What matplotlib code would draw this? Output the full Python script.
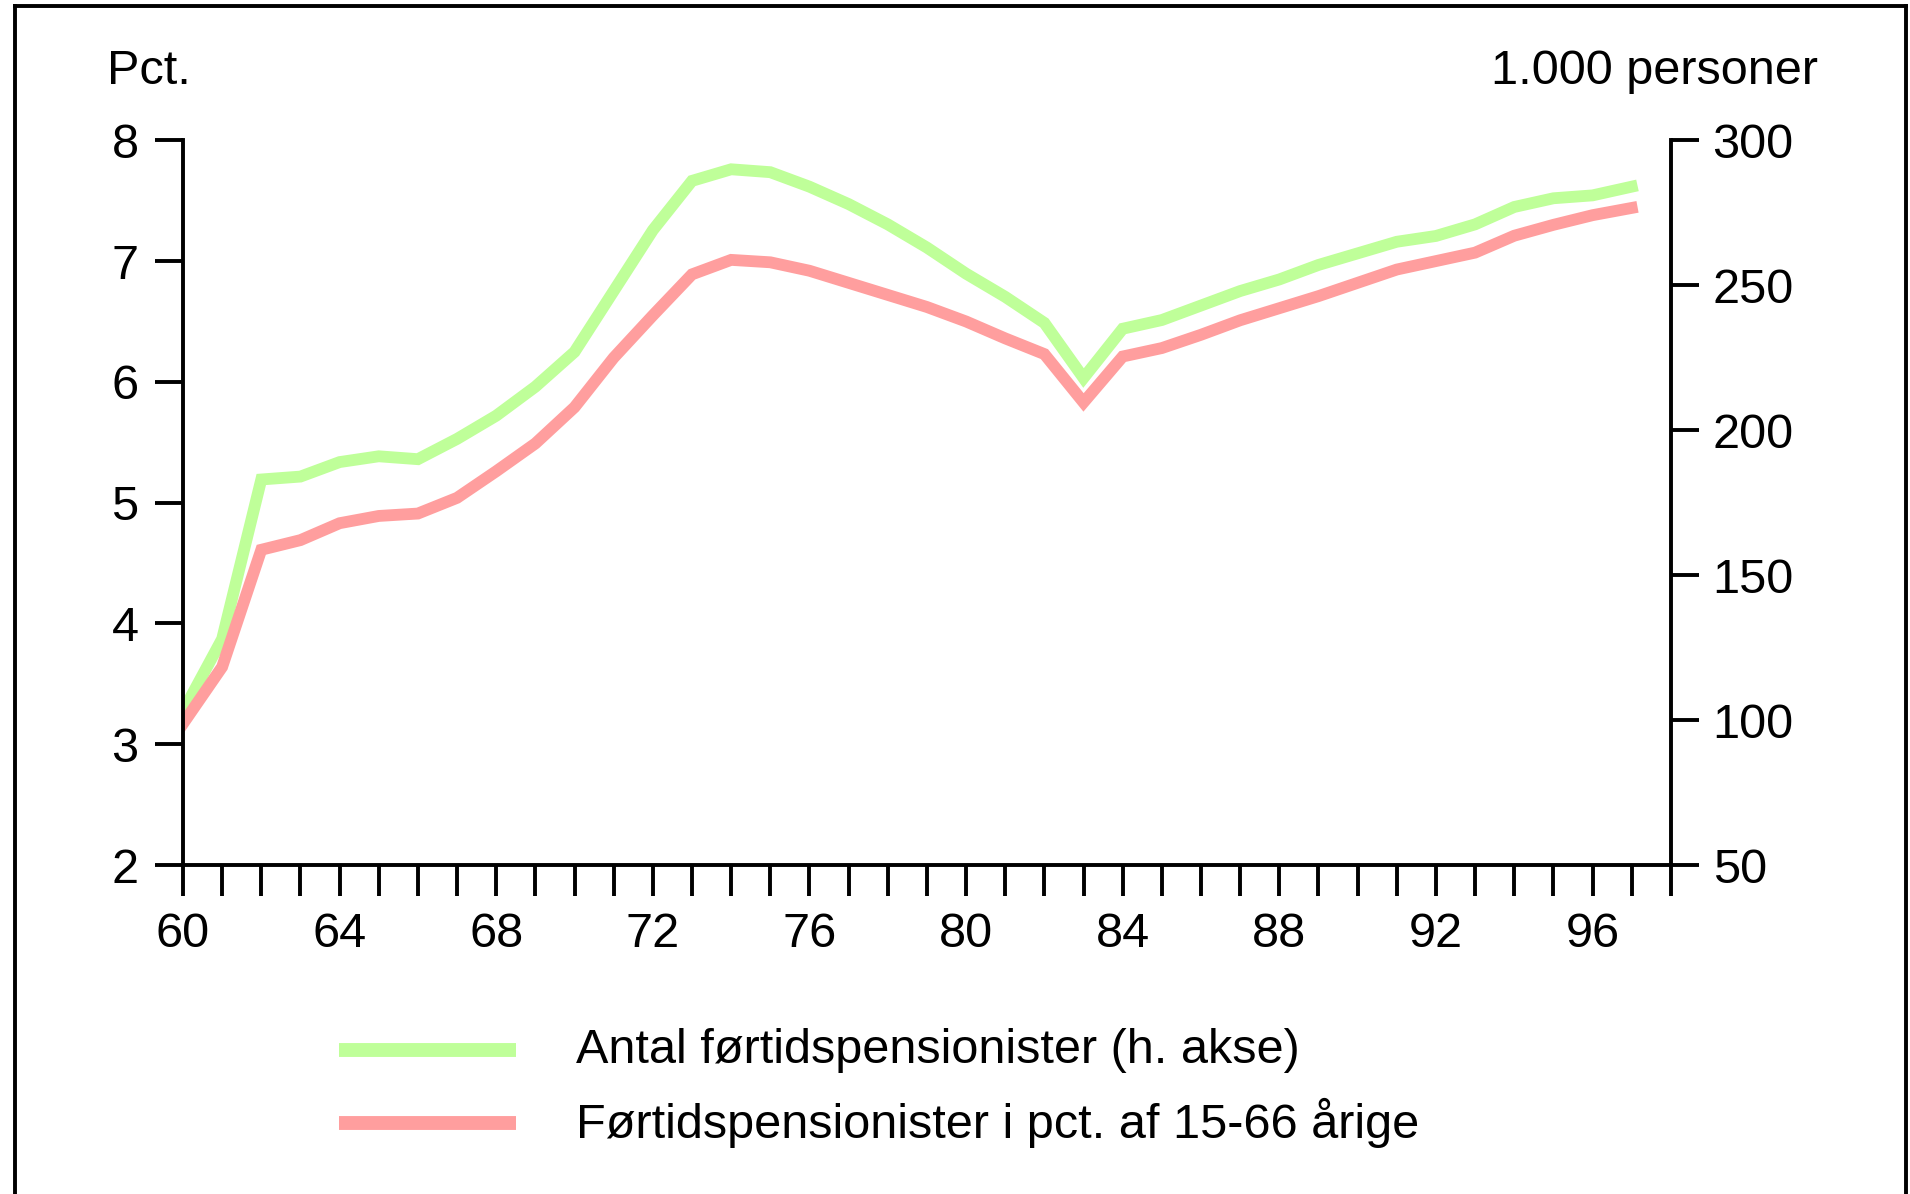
import numpy as np
import matplotlib.pyplot as plt
from matplotlib.lines import Line2D

# Data
YEARS = np.arange(1960, 1998)
ANTAL = [103, 128, 183, 184, 189, 191, 190, 197, 205, 215,
         227, 248, 269, 286, 290, 289, 284, 278, 271, 263,
         254, 246, 237, 218, 235, 238, 243, 248, 252, 257,
         261, 265, 267, 271, 277, 280, 281, 284]
PCT = [3.17, 3.64, 4.61, 4.69, 4.83, 4.89, 4.91, 5.04, 5.26, 5.49,
       5.79, 6.20, 6.55, 6.89, 7.01, 6.99, 6.92, 6.82, 6.72, 6.62,
       6.50, 6.36, 6.23, 5.83, 6.21, 6.28, 6.39, 6.51, 6.61, 6.71,
       6.82, 6.93, 7.00, 7.07, 7.21, 7.30, 7.38, 7.44]
LEFT_TICKS = [2, 3, 4, 5, 6, 7, 8]
RIGHT_TICKS = [50, 100, 150, 200, 250, 300]
LABELS = ['Antal førtidspensionister (h. akse)',
          'Førtidspensionister i pct. af 15-66 årige']

GREEN = '#bfff99'
RED = '#ff9e9e'
FS = 35

plt.rcParams['font.family'] = ['Liberation Sans', 'DejaVu Sans']

fig = plt.figure(figsize=(19.10, 11.94), dpi=100)
ax = fig.add_axes([0.0958, 0.2755, 0.779, 0.607])
ax2 = ax.twinx()

ax2.plot(YEARS, ANTAL, color=GREEN, lw=8.5, solid_joinstyle='miter')
ax.plot(YEARS, PCT, color=RED, lw=8.5, solid_joinstyle='miter')
ax.set_zorder(ax2.get_zorder() + 1)
ax.patch.set_visible(False)

ax.set_xlim(1960, 1998)
ax.set_ylim(2, 8)
ax2.set_ylim(50, 300)

xt = np.arange(1960, 1999)
ax.set_xticks(xt)
ax.set_xticklabels([str(y)[2:] if y % 4 == 0 and y < 1998 else '' for y in xt])
ax.set_yticks(LEFT_TICKS)
ax2.set_yticks(RIGHT_TICKS)

for a in (ax, ax2):
    a.spines['top'].set_visible(False)
    for s in a.spines.values():
        s.set_linewidth(2.8)
    a.tick_params(length=20, width=2.8, labelsize=FS, direction='out')
ax.spines['right'].set_visible(False)
ax2.spines['left'].set_visible(False)
ax2.spines['bottom'].set_visible(False)
ax.tick_params(axis='x', length=22, pad=12)
ax.tick_params(axis='y', pad=12)
ax2.tick_params(axis='y', pad=10)

fig.text(0.056, 0.9405, 'Pct.', fontsize=FS, va='center', ha='left')
fig.text(0.952, 0.9405, '1.000 personer', fontsize=FS, va='center', ha='right')

# Legend drawn by hand
for yy, col, lab in [(0.1206, GREEN, LABELS[0]), (0.0595, RED, LABELS[1])]:
    fig.add_artist(Line2D([0.1775, 0.270], [yy, yy], color=col, lw=10,
                          solid_capstyle='butt', transform=fig.transFigure))
    fig.text(0.3016, yy, lab, fontsize=FS, va='center', ha='left')

# Outer frame
for xs, ys in [([0.0079, 0.0079], [0.0, 0.995]),
               ([0.0079, 0.998], [0.995, 0.995]),
               ([0.998, 0.998], [0.0, 0.995])]:
    fig.add_artist(Line2D(xs, ys, color='black', lw=2.8, transform=fig.transFigure))

fig.savefig('out.png', dpi=100)
